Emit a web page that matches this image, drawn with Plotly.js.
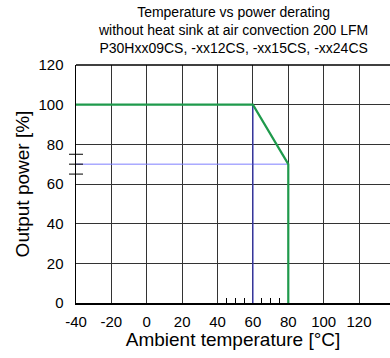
<!DOCTYPE html>
<html><head><meta charset="utf-8">
<script src="https://cdn.plot.ly/plotly-3.0.1.min.js"></script>
<style>html,body{margin:0;padding:0;background:#fff}#c{width:390px;height:358px}</style>
</head><body><div id="c"></div>
<script>
// Data
const deratingTemp = [-40, 60, 80, 80];
const deratingPower = [100, 100, 70, 0];
const refHTemp = [-40, 80];
const refHPower = [70, 70];
const refVTemp = [60, 60];
const refVPower = [0, 100];
const yMinorTicks = [65, 70, 75];
const yMinorX = [-40, -40, -40];
const xMinorTicks = [45, 50, 55, 65, 70, 75];
const xTickVals = [-40, -20, 0, 20, 40, 60, 80, 100, 120];
const xTickText = ['-40', '-20', '0', '20', '40', '60', '80', '100', '120'];
const yTickVals = [0, 20, 40, 60, 80, 100, 120];
const yTickText = ['0', '20', '40', '60', '80', '100', '120'];

const traces = [
  {x: refHTemp, y: refHPower, mode: 'lines', line: {color: '#7f7fff', width: 1}, hoverinfo: 'skip'},
  {x: refVTemp, y: refVPower, mode: 'lines', line: {color: '#3a3ab4', width: 1.3}, hoverinfo: 'skip'},
  {x: deratingTemp, y: deratingPower, mode: 'lines', line: {color: '#1f9a4c', width: 2.2}},
  {x: yMinorX, y: yMinorTicks, mode: 'markers', cliponaxis: false,
   marker: {symbol: 'line-ew', size: 10, line: {color: '#000', width: 1}}, hoverinfo: 'skip'}
];

const font = {family: 'Liberation Sans, Arial, sans-serif', color: '#000'};
const layout = {
  width: 390, height: 358,
  margin: {l: 76, r: 0, t: 65, b: 55},
  paper_bgcolor: '#fff', plot_bgcolor: '#fff',
  showlegend: false,
  font: font,
  annotations: [{
    text: 'Temperature vs power derating<br>without heat sink at air convection 200 LFM<br>P30Hxx09CS, -xx12CS, -xx15CS, -xx24CS',
    font: {family: font.family, size: 14, color: '#000'},
    xref: 'paper', yref: 'paper', x: 0.5, xanchor: 'center',
    y: 1.263, yanchor: 'top', showarrow: false, align: 'center'
  }],
  xaxis: {
    range: [-40, 137.5], tickmode: 'array', tickvals: xTickVals, ticktext: xTickText,
    showgrid: true, gridcolor: '#333', gridwidth: 1,
    zeroline: false, showline: true, linecolor: '#000', linewidth: 1.5,
    ticks: '', tickfont: {size: 15, family: font.family}, ticklabelstandoff: 4,
    minor: {tickmode: 'array', tickvals: xMinorTicks, ticks: 'inside', ticklen: 5, tickcolor: '#000', tickwidth: 1, showgrid: false},
    title: {text: 'Ambient temperature [°C]', font: {size: 19, family: font.family}, standoff: 4}
  },
  yaxis: {
    range: [0, 120], tickmode: 'array', tickvals: yTickVals, ticktext: yTickText,
    showgrid: true, gridcolor: '#333', gridwidth: 1,
    zeroline: false, showline: true, linecolor: '#000', linewidth: 1.5, mirror: false,
    ticks: '', tickfont: {size: 15, family: font.family}, ticklabelstandoff: 8,
    title: {text: 'Output power [%]', font: {size: 19, family: font.family}, standoff: 4}
  },
  shapes: [
    {type: 'line', xref: 'paper', yref: 'paper', x0: 0, x1: 1, y0: 1, y1: 1, line: {color: '#000', width: 1.5}}
  ]
};
Plotly.newPlot('c', traces, layout, {displayModeBar: false, staticPlot: true});
</script></body></html>
